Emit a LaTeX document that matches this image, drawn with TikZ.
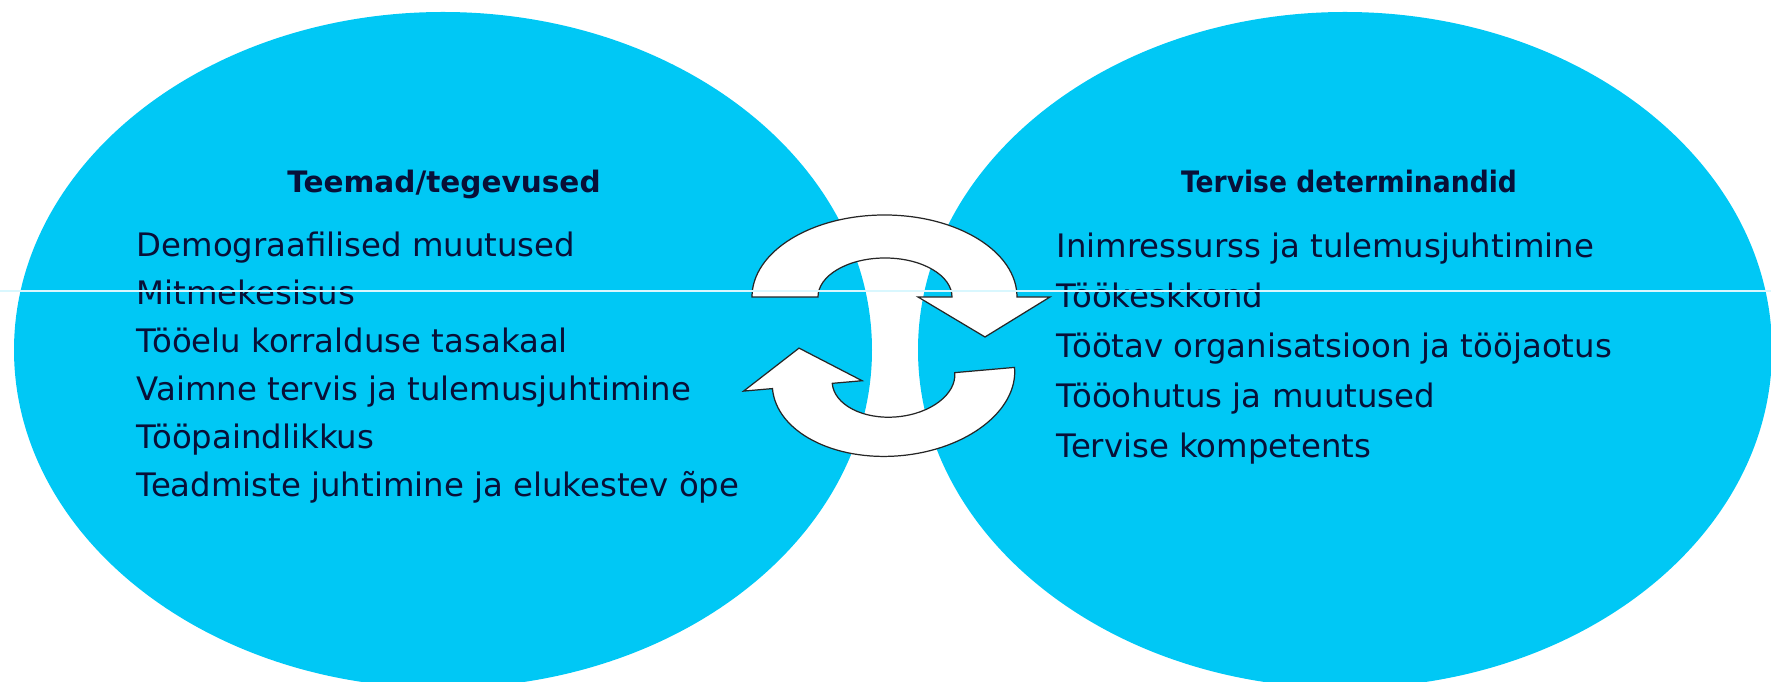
\documentclass[tikz,border=0pt]{standalone}
\usepackage{fontspec}
\setmainfont{DejaVu Sans}
\usepackage{xcolor}
\usepackage{tikz}
\usetikzlibrary{positioning}
\definecolor{sky}{RGB}{0,200,245}
\definecolor{ink}{RGB}{8,16,56}
\tikzset{x=0.01cm, y=0.01cm,
    blob/.style={fill=sky, draw=none},
    heading/.style={anchor=base, inner sep=0pt, text=ink,
        font=\fontsize{8.4}{10}\selectfont\bfseries},
    narrow/.style={font=\fontsize{8.4}{10}\selectfont\bfseries\addfontfeature{FakeStretch=0.9}},
    item/.style={anchor=base west, inner sep=0pt, text=ink,
        font=\fontsize{9.2}{11}\selectfont},
    turn/.style={fill=white, draw=black!85, line width=0.35pt, line join=miter},
    seam/.style={draw=white!85!sky, line width=0.3pt}}

\begin{document}
\begin{tikzpicture}
            \useasboundingbox (0,0) rectangle (1771,682);
            \fill[blob] (443,332) ellipse [x radius=429, y radius=338];
            \fill[blob] (1345,332) ellipse [x radius=427, y radius=338];

            \draw[turn] (752,385) arc[start angle=180, end angle=0, x radius=132.5, y radius=82]
                -- (1050,385) -- (985,345) -- (918,385) -- (952,385)
                arc[start angle=0, end angle=180, x radius=67, y radius=39] -- cycle;
            \draw[turn, rotate around={5:(893.5,304)}] (1015,304)
                arc[start angle=0, end angle=-180, x radius=121.5, y radius=78]
                -- (743,304) -- (802,342) -- (862,304) -- (832,304)
                arc[start angle=180, end angle=360, x radius=61.5, y radius=39] -- cycle;

            \node[heading] (teemad) at (444,489) {Teemad/tegevused};
            \node[item] (demo) at (136,425) {Demograafilised muutused};
            \node[item] (mitme) at (136,377) {Mitmekesisus};
            \node[item] (tasakaal) at (136,329) {Tööelu korralduse tasakaal};
            \node[item] (vaimne) at (136,281) {Vaimne tervis ja tulemusjuhtimine};
            \node[item] (paind) at (136,233) {Tööpaindlikkus};
            \node[item] (teadm) at (136,185) {Teadmiste juhtimine ja elukestev õpe};

            \node[heading, narrow] (tervis) at (1349,489) {Tervise determinandid};
            \node[item] (inim) at (1056,424) {Inimressurss ja tulemusjuhtimine};
            \node[item] (keskk) at (1056,374) {Töökeskkond};
            \node[item] (organ) at (1056,324) {Töötav organisatsioon ja tööjaotus};
            \node[item] (ohutus) at (1056,274) {Tööohutus ja muutused};
            \node[item] (komp) at (1056,224) {Tervise kompetents};

            \draw[seam] (0,391) -- (1771,391);
        \end{tikzpicture}
\end{document}
